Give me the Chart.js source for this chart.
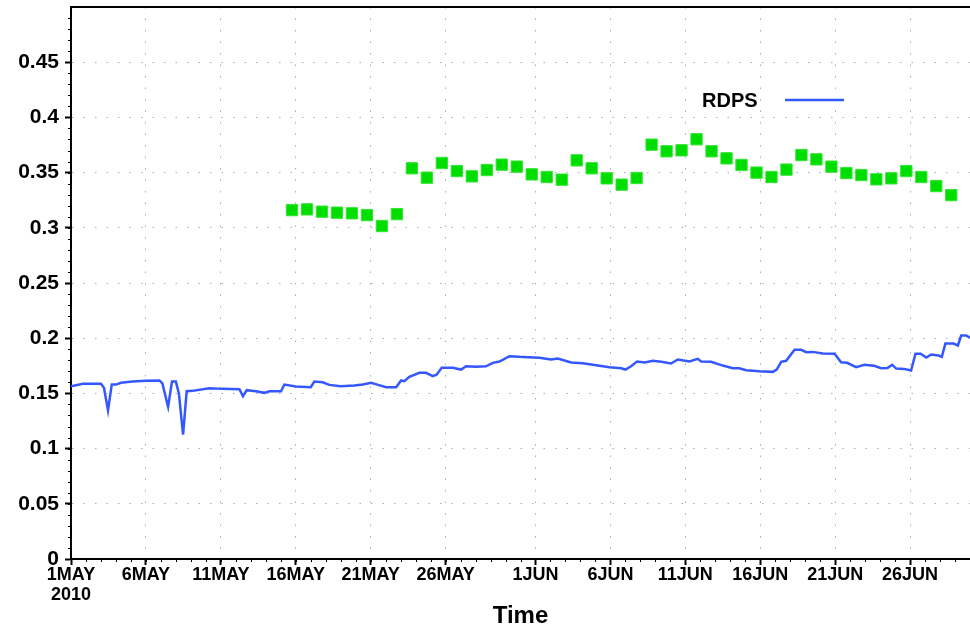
<!DOCTYPE html>
<html>
<head>
<meta charset="utf-8">
<script src="https://cdn.jsdelivr.net/npm/chart.js@4.4.0/dist/chart.umd.min.js"></script>
<style>
  html, body { margin: 0; padding: 0; background: #fff; }
  #wrap { width: 970px; height: 625px; }
</style>
</head>
<body>
<div id="wrap"><canvas id="chart" width="970" height="625"></canvas></div>
<script>
// x values are days since 1 May 2010 00Z
const xTickDays = [0, 5, 10, 15, 20, 25, 31, 36, 41, 46, 51, 56];
const xTickLabels = [['1MAY', '2010'], '6MAY', '11MAY', '16MAY', '21MAY', '26MAY',
  '1JUN', '6JUN', '11JUN', '16JUN', '21JUN', '26JUN'];
const yTickValues = [0, 0.05, 0.1, 0.15, 0.2, 0.25, 0.3, 0.35, 0.4, 0.45];
const yTickLabels = ['0', '0.05', '0.1', '0.15', '0.2', '0.25', '0.3', '0.35', '0.4', '0.45'];

// RDPS model series (blue line)
const rdpsDays = [0, 0.8, 2.0, 2.2, 2.47, 2.72, 3.0, 3.34, 4.1, 5.0, 5.9, 6.1, 6.48, 6.74, 7.0, 7.2, 7.48, 7.72,
  8.12, 9.23, 10.12, 11.24, 11.48, 11.73, 12.35, 12.9, 13.24, 14.02, 14.24, 15.0, 16.0, 16.24, 16.8, 17.24,
  18.0, 18.9, 19.47, 20.03, 20.5, 21.03, 21.7, 22.03, 22.25, 22.58, 23.25, 23.7, 24.14, 24.4, 24.74, 25.48,
  26.03, 26.37, 27.03, 27.7, 28.15, 28.6, 29.26, 29.93, 30.5, 31.26, 32.04, 32.49, 33.38, 34.16, 35.05,
  35.94, 36.72, 37.0, 37.38, 37.78, 38.3, 38.83, 39.4, 40.05, 40.5, 41.28, 41.83, 42.06, 42.72, 43.5,
  44.17, 44.6, 45.06, 45.95, 46.84, 47.1, 47.4, 47.73, 48.29, 48.73, 49.07, 49.5, 50.18, 50.96, 51.4,
  51.8, 52.4, 52.96, 53.6, 54.07, 54.5, 54.81, 55.07, 55.6, 56.07, 56.36, 56.7, 57.08, 57.41, 57.9,
  58.12, 58.36, 58.9, 59.19, 59.41, 59.75, 60.0];
const rdpsValues = [0.1565, 0.1587, 0.1587, 0.155, 0.1345, 0.158, 0.158, 0.1596, 0.1607, 0.1614, 0.1617,
  0.159, 0.1378, 0.1607, 0.1607, 0.150, 0.1127, 0.152, 0.1523, 0.1547, 0.1541, 0.1538, 0.1474, 0.1529,
  0.152, 0.1505, 0.152, 0.152, 0.158, 0.1562, 0.1556, 0.1607, 0.1601, 0.1577, 0.1565, 0.1571, 0.158,
  0.1596, 0.1577, 0.1556, 0.1556, 0.1617, 0.161, 0.165, 0.1686, 0.1686, 0.1656, 0.167, 0.1732, 0.1732,
  0.1716, 0.1746, 0.1741, 0.1746, 0.1777, 0.1789, 0.1837, 0.1831, 0.1828, 0.1822, 0.1807, 0.1816, 0.178,
  0.1773, 0.1755, 0.1737, 0.1728, 0.1716, 0.1746, 0.1789, 0.178, 0.1795, 0.1786, 0.1771, 0.1807, 0.1789,
  0.1813, 0.1789, 0.1786, 0.1752, 0.1728, 0.1728, 0.171, 0.1701, 0.1695, 0.1716, 0.1786, 0.1795, 0.1895,
  0.1895, 0.1873, 0.1876, 0.1861, 0.1859, 0.1782, 0.1777, 0.1737, 0.1759, 0.175, 0.1728, 0.1731, 0.1759,
  0.1725, 0.1722, 0.1707, 0.1859, 0.1859, 0.1825, 0.1852, 0.1843, 0.1831, 0.1952, 0.1952, 0.1934, 0.2024,
  0.2024, 0.2004];

// daily observations (green squares), first one on 15 May 18Z
const obsStartDay = 14.75;
const obsValues = [0.3160, 0.3167, 0.3146, 0.3137, 0.3131, 0.3115, 0.3016, 0.3124, 0.3539, 0.3454,
  0.3587, 0.3514, 0.3466, 0.3523, 0.3572, 0.3554, 0.3484, 0.3460, 0.3436, 0.3611, 0.3539, 0.3448,
  0.3391, 0.3451, 0.3753, 0.3693, 0.3702, 0.3802, 0.3693, 0.3629, 0.3569, 0.3500, 0.3460, 0.3527,
  0.3659, 0.3620, 0.3554, 0.3496, 0.3478, 0.3439, 0.3448, 0.3514, 0.3460, 0.3378, 0.3296];

const FONT = '"Liberation Sans", Arial, sans-serif';
const BLUE = '#3458ff';

// frame on top, minor ticks and the RDPS legend drawn by hand
const extras = {
  id: 'extras',
  afterDraw(chart) {
    const { ctx, chartArea: a, scales: { x, y } } = chart;
    ctx.save();
    ctx.strokeStyle = '#000';
    ctx.lineWidth = 2;
    ctx.beginPath();
    ctx.moveTo(a.left, a.top);
    ctx.lineTo(a.right, a.top);
    ctx.stroke();

    ctx.lineWidth = 1;
    ctx.beginPath();
    for (let d = 1; d < 60; d++) {
      const px = Math.round(x.getPixelForValue(d)) + 0.5;
      ctx.moveTo(px, a.bottom);
      ctx.lineTo(px, a.bottom + 3);
    }
    for (let i = 1; i < 50; i++) {
      const py = Math.round(y.getPixelForValue(i / 100)) + 0.5;
      ctx.moveTo(a.left, py);
      ctx.lineTo(a.left - 3, py);
    }
    ctx.stroke();

    ctx.fillStyle = '#000';
    ctx.font = 'bold 20px ' + FONT;
    ctx.textAlign = 'left';
    ctx.textBaseline = 'middle';
    ctx.fillText('RDPS', 702, 101);
    ctx.strokeStyle = BLUE;
    ctx.lineWidth = 2.5;
    ctx.beginPath();
    ctx.moveTo(785, 100);
    ctx.lineTo(844, 100);
    ctx.stroke();
    ctx.restore();
  }
};

new Chart(document.getElementById('chart'), {
  type: 'line',
  data: {
    datasets: [
      {
        label: 'RDPS',
        data: rdpsDays.map((d, i) => ({ x: d, y: rdpsValues[i] })),
        borderColor: BLUE,
        borderWidth: 2.5,
        pointRadius: 0,
        tension: 0,
      },
      {
        label: 'Obs',
        data: obsValues.map((v, i) => ({ x: obsStartDay + i, y: v })),
        showLine: false,
        pointStyle: 'rect',
        pointRadius: 8,
        backgroundColor: '#00dd00',
        borderColor: '#33e633',
        borderWidth: 1,
      },
    ],
  },
  options: {
    responsive: false,
    animation: false,
    layout: { autoPadding: false, padding: { top: 7, right: 0, left: 0, bottom: 0 } },
    plugins: { legend: { display: false }, tooltip: { enabled: false } },
    scales: {
      x: {
        type: 'linear',
        min: 0,
        max: 60,
        afterBuildTicks: (s) => { s.ticks = xTickDays.map(v => ({ value: v })); },
        afterFit: (s) => {
          s.height = 66;
          s.paddingLeft = 0; s.paddingRight = 0;
        },
        ticks: {
          callback: (v, i) => xTickLabels[i],
          color: '#000',
          font: { family: FONT, size: 18, weight: 'bold', lineHeight: 1.1 },
          padding: 0,
          maxRotation: 0,
          autoSkip: false,
        },
        grid: {
          color: 'rgba(160,160,195,0.9)',
          lineWidth: 1,
          tickLength: 6,
          tickColor: '#000',
          tickWidth: 2,
        },
        border: { color: '#000', width: 2, dash: [1.5, 10] },
        title: {
          display: true,
          text: 'Time',
          color: '#000',
          font: { family: FONT, size: 24, weight: 'bold', lineHeight: 0.75 },
          padding: { top: 0, bottom: 0 },
        },
      },
      y: {
        min: 0,
        max: 0.5,
        afterBuildTicks: (s) => { s.ticks = yTickValues.map(v => ({ value: v })); },
        afterFit: (s) => {
          s.width = 71;
          s.paddingTop = 0; s.paddingBottom = 0;
        },
        ticks: {
          callback: (v, i) => yTickLabels[i],
          color: '#000',
          font: { family: FONT, size: 21, weight: 'bold' },
          padding: 6,
        },
        grid: {
          color: 'rgba(160,160,195,0.9)',
          lineWidth: 1,
          tickLength: 6,
          tickColor: '#000',
          tickWidth: 2,
        },
        border: { color: '#000', width: 2, dash: [1.5, 10] },
      },
    },
  },
  plugins: [extras],
});
</script>
</body>
</html>
